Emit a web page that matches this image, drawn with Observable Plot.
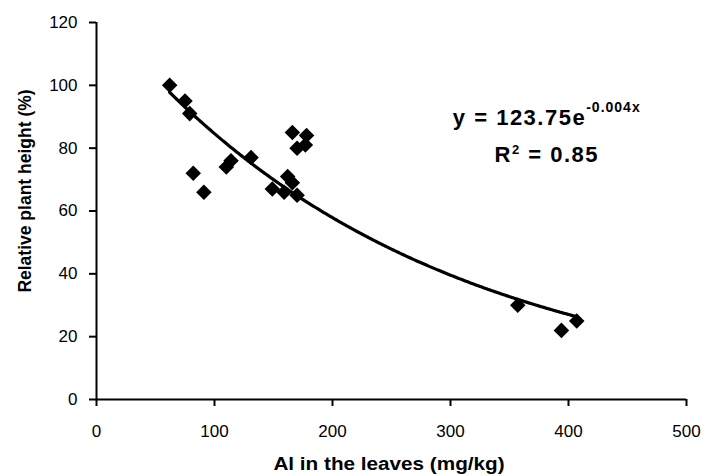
<!DOCTYPE html>
<html>
<head>
<meta charset="utf-8">
<script src="https://cdn.jsdelivr.net/npm/d3@7"></script>
<script src="https://cdn.jsdelivr.net/npm/@observablehq/plot@0.6"></script>
<style>
  html, body { margin: 0; padding: 0; background: #fff; }
  #chart svg { display: block; }
</style>
</head>
<body>
<div id="chart"></div>
<script>
// Al in the leaves (mg/kg)
const alLeaves = [62, 75, 79, 82, 91, 110, 114, 131, 149, 159, 162, 166, 170, 166, 178, 170, 177, 357, 394, 407];
// Relative plant height (%)
const plantHeight = [100, 95, 91, 72, 66, 74, 76, 77, 67, 66, 71, 69, 65, 85, 84, 80, 81, 30, 22, 25];

const xTicks = [0, 100, 200, 300, 400, 500];
const yTicks = [0, 20, 40, 60, 80, 100, 120];

const xLabel = "Al in the leaves (mg/kg)";
const yLabel = "Relative plant height (%)";

// exponential trend line as drawn
const fitA = 123.75;
const fitK = 0.0038;
const fitRange = [62, 407];

const eqMain = "y = 123.75e";
const eqExp = "-0.004x";
const r2Main = "R";
const r2Sup = "2";
const r2Rest = " = 0.85";
const eqAnchor = {x: 382, y1: 87.2, y2: 75.4};

const points = alLeaves.map((x, i) => ({x, y: plantHeight[i]}));
const fitX = d3.range(fitRange[0], fitRange[1] + 0.001, 1);
const fitLine = fitX.map(x => ({x, y: fitA * Math.exp(-fitK * x)}));

const font = "'Liberation Sans', Arial, Helvetica, sans-serif";

const chart = Plot.plot({
  width: 702,
  height: 476,
  marginLeft: 96,
  marginRight: 16,
  marginTop: 22,
  marginBottom: 77,
  style: {fontFamily: font, fontSize: "17px", color: "black", background: "white", overflow: "visible"},
  x: {domain: [0, 500], axis: null},
  y: {domain: [0, 120], axis: null},
  marks: [
    Plot.axisX({ticks: xTicks, tickSize: 7, tickPadding: 18, strokeWidth: 2, fontSize: 17, tickFormat: d => d, label: null}),
    Plot.axisY({ticks: yTicks, tickSize: 7, tickPadding: 12, strokeWidth: 2, fontSize: 17, tickFormat: d => d, label: null}),
    Plot.ruleY([0], {stroke: "black", strokeWidth: 2}),
    Plot.ruleX([0], {stroke: "black", strokeWidth: 2}),
    Plot.line(fitLine, {x: "x", y: "y", stroke: "black", strokeWidth: 3.2}),
    Plot.dot(points, {x: "x", y: "y", symbol: "diamond2", r: 7, fill: "black", stroke: "none"})
  ]
});

document.getElementById("chart").appendChild(chart);

const sx = chart.scale("x"), sy = chart.scale("y");
const svg = d3.select(chart);

// axis titles
const frameCx = (sx.apply(0) + sx.apply(500)) / 2;
svg.append("text")
  .attr("transform", `translate(${frameCx - 2},470) scale(1.12,1)`)
  .attr("text-anchor", "middle").attr("font-family", font).attr("font-weight", "bold")
  .attr("font-size", 18.5).attr("fill", "black")
  .text(xLabel);
svg.append("text")
  .attr("transform", "translate(31,191) rotate(-90)")
  .attr("text-anchor", "middle").attr("font-family", font).attr("font-weight", "bold")
  .attr("font-size", 17.5).attr("fill", "black")
  .text(yLabel);

// annotation with superscripts
const t1 = svg.append("text")
  .attr("x", sx.apply(eqAnchor.x)).attr("y", sy.apply(eqAnchor.y1))
  .attr("text-anchor", "middle").attr("font-family", font).attr("font-weight", "bold")
  .attr("font-size", 22).attr("letter-spacing", "1.5px").attr("fill", "black");
t1.append("tspan").text(eqMain);
t1.append("tspan").attr("dy", -13.3).attr("font-size", 14).attr("letter-spacing", "1px").text(eqExp);

const t2 = svg.append("text")
  .attr("x", sx.apply(eqAnchor.x)).attr("y", sy.apply(eqAnchor.y2))
  .attr("text-anchor", "middle").attr("font-family", font).attr("font-weight", "bold")
  .attr("font-size", 22).attr("letter-spacing", "1.5px").attr("fill", "black");
t2.append("tspan").text(r2Main);
t2.append("tspan").attr("dy", -8).attr("font-size", 13).text(r2Sup);
t2.append("tspan").attr("dy", 8).text(r2Rest);
</script>
</body>
</html>
